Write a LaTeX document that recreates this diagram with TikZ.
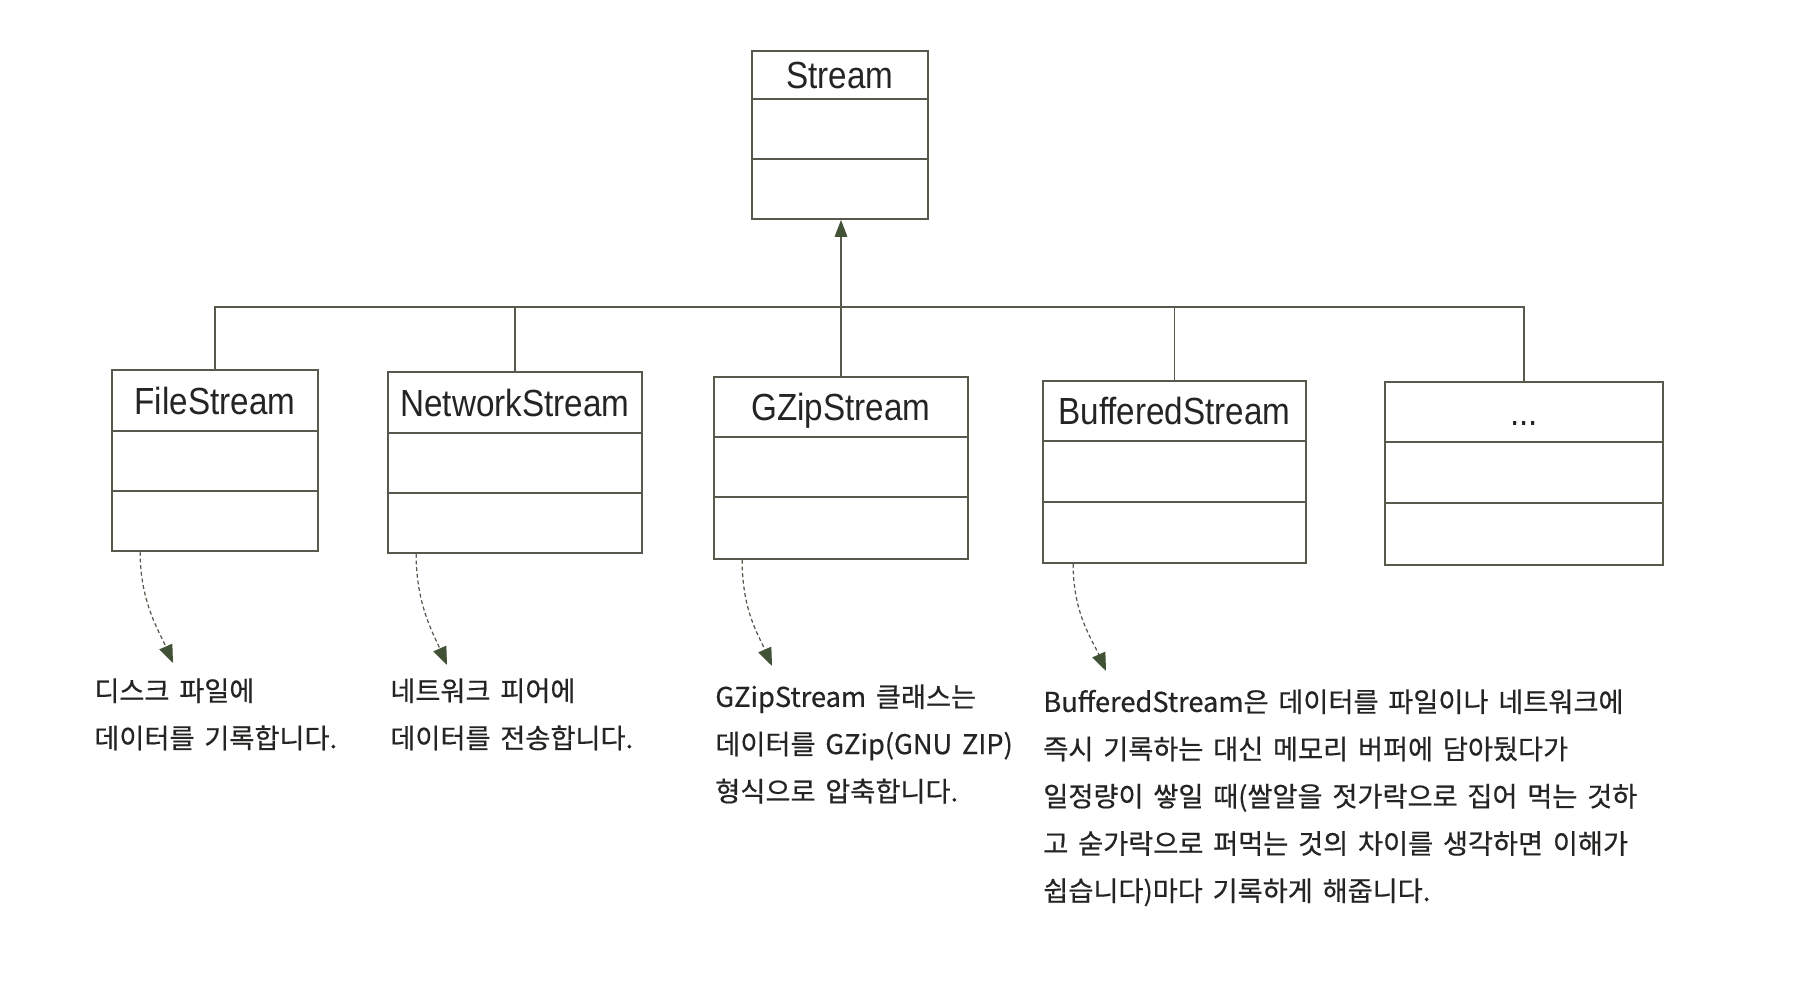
\documentclass[tikz,border=0pt]{standalone}
\usepackage{fontspec}
\usetikzlibrary{arrows.meta,fit,calc}
\newfontfamily\clsfont[FakeStretch=0.88]{Liberation Sans}
\newfontfamily\kofont[FakeBold=0.5, WordSpace=1.6]{Noto Sans CJK KR}
\definecolor{inkline}{RGB}{88,88,76}
\definecolor{inktip}{RGB}{66,82,54}
\definecolor{inktext}{RGB}{36,36,34}

% UML class box: name, x1, y1, x2, y2, divider 1, divider 2, title
\newcommand{\umlclass}[8]{%
  \node[classbox, fit={(#2,#3)(#4,#5)}] (#1) {};
  \draw[divider] (#2,#6) -- (#4,#6);
  \draw[divider] (#2,#7) -- (#4,#7);
  \node[classname] (#1-name) at ({(#2+#4)/2},{(#3+#6)/2+13.5}) {#8};
}

\begin{document}
\begin{tikzpicture}[x=0.02cm,y=-0.02cm,
  classbox/.style={draw=inkline, line width=1pt, inner sep=0pt},
  divider/.style={draw=inkline, line width=1pt},
  classname/.style={font=\clsfont\fontsize{21.5}{24}\selectfont, text=inktext,
    inner sep=0pt, anchor=base},
  link/.style={draw=inkline, line width=0.9pt},
  inherit/.style={link, -{Triangle[length=0.34cm,width=0.25cm,color=inktip]}},
  note/.style={draw=inkline, line width=0.7pt, dash pattern=on 2.2pt off 1.6pt,
    -{Triangle[length=0.36cm,width=0.28cm,color=inktip]}},
  desc/.style={font=\kofont\fontsize{15.5}{26.9}\selectfont,
    text=inktext, align=left, anchor=north west, inner sep=0pt}
]
\useasboundingbox[fill=white] (0,0) rectangle (1807,1000);

% base class
\umlclass{stream}{752}{51}{928}{219}{99}{159}{Stream}

% derived classes
\umlclass{fs}{112}{370}{318}{551}{431}{491}{FileStream}
\umlclass{ns}{388}{372}{642}{553}{433}{493}{NetworkStream}
\umlclass{gz}{714}{377}{968}{559}{437}{497}{GZipStream}
\umlclass{bs}{1043}{381}{1306}{563}{441}{502}{BufferedStream}
\umlclass{dots}{1385}{382}{1663}{565}{442}{503}{...}

% inheritance tree
\coordinate (bus) at (840,307);
\draw[link] (fs.north) -- (fs.north |- bus) -- (dots.north |- bus) -- (dots.north);
\draw[link] (ns.north) -- (ns.north |- bus);
\draw[link] (bs.north) -- (bs.north |- bus);
\draw[inherit] (gz.north) -- (gz.north |- stream.south);

% descriptions
\node[desc] (fsNote) at (94,678) {디스크 파일에\\데이터를 기록합니다.};
\node[desc] (nsNote) at (390,678) {네트워크 피어에\\데이터를 전송합니다.};
\node[desc] (gzNote) at (715,684) {GZipStream 클래스는\\데이터를 GZip(GNU ZIP)\\형식으로 압축합니다.};
\node[desc] (bsNote) at (1043,689) {BufferedStream은 데이터를 파일이나 네트워크에\\
즉시 기록하는 대신 메모리 버퍼에 담아뒀다가\\
일정량이 쌓일 때(쌀알을 젓가락으로 집어 먹는 것하\\
고 숟가락으로 퍼먹는 것의 차이를 생각하면 이해가\\
쉽습니다)마다 기록하게 해줍니다.};

% dashed pointers from each class to its description
\coordinate (fsTip) at (173,663);
\coordinate (nsTip) at (447,665);
\coordinate (gzTip) at (772,666);
\coordinate (bsTip) at (1106,671);
\draw[note] ($(fs.south west)+(29,0)$) .. controls +(0,50) and +(-14,-32) .. (fsTip);
\draw[note] ($(ns.south west)+(29,0)$) .. controls +(0,50) and +(-14,-32) .. (nsTip);
\draw[note] ($(gz.south west)+(29,0)$) .. controls +(0,50) and +(-14,-32) .. (gzTip);
\draw[note] ($(bs.south west)+(31,0)$) .. controls +(0,50) and +(-14,-32) .. (bsTip);
\end{tikzpicture}
\end{document}
